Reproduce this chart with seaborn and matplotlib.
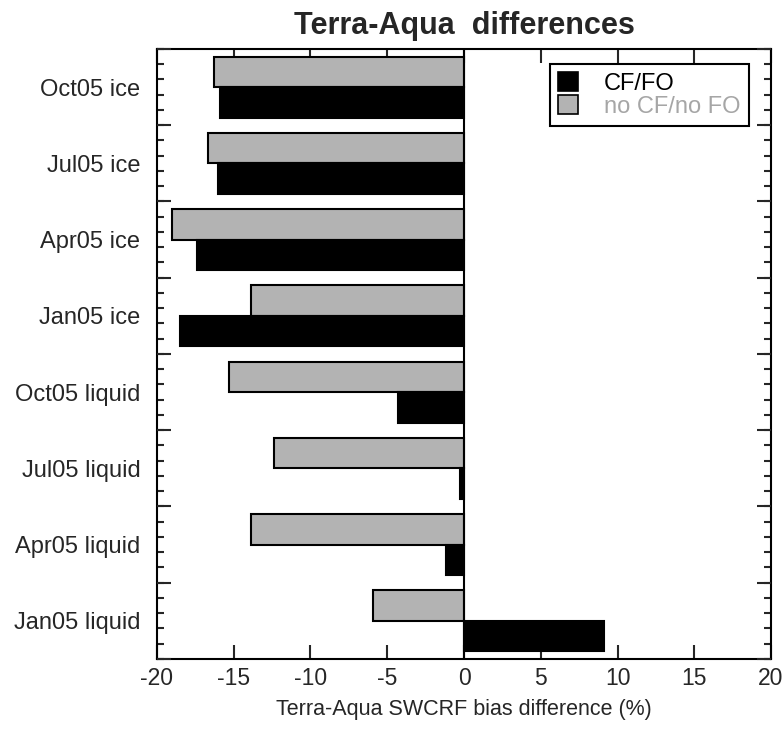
import matplotlib
matplotlib.use("Agg")
import matplotlib.pyplot as plt
import matplotlib.patches as mpatches
import numpy as np
import pandas as pd
import seaborn as sns

categories = ["Oct05 ice", "Jul05 ice", "Apr05 ice", "Jan05 ice",
              "Oct05 liquid", "Jul05 liquid", "Apr05 liquid", "Jan05 liquid"]
cf_fo = [-15.9, -16.0, -17.4, -18.5, -4.3, -0.25, -1.15, 9.15]
no_cf_fo = [-16.3, -16.65, -19.0, -13.9, -15.3, -12.35, -13.9, -5.9]
series_names = ["no CF/no FO", "CF/FO"]
xticks = [-20, -15, -10, -5, 0, 5, 10, 15, 20]

df = pd.DataFrame({
    "category": categories * 2,
    "value": no_cf_fo + cf_fo,
    "series": [series_names[0]] * len(categories) + [series_names[1]] * len(categories),
})

sns.set_style("ticks")
plt.rcParams["font.family"] = ["Liberation Sans", "DejaVu Sans"]

GRAY = "#b3b3b3"
fig = plt.figure(figsize=(7.83, 7.33), dpi=100)
ax = fig.add_axes([0.2005, 0.101, 0.7842, 0.8322])

sns.barplot(data=df, y="category", x="value", hue="series", order=categories,
            hue_order=series_names, palette={series_names[0]: GRAY, series_names[1]: "black"},
            orient="h", width=0.8, edgecolor="black", linewidth=1.5, ax=ax, legend=False)

ax.axvline(0, color="black", lw=1.5, zorder=5)
ax.set_xlim(-20, 20)
ax.set_ylim(len(categories) - 0.5, -0.5)

ax2 = ax.twinx()
ax2.set_ylim(ax.get_ylim())
ax2.set_yticks(np.arange(-0.5, len(categories), 1.0))
ax2.tick_params(axis="y", direction="in", length=10, width=1.5, left=True, right=True,
                labelleft=False, labelright=False)
for s in ax2.spines.values():
    s.set_visible(False)

ax.set_xticks(xticks)
ax.set_xticklabels([str(t) for t in xticks], fontsize=16.5)
ax.tick_params(axis="x", which="major", direction="in", length=10, width=1.5,
               top=True, bottom=True, pad=6)
ax.set_yticks(range(len(categories)))
ax.set_yticklabels(categories, fontsize=17)
ax.tick_params(axis="y", which="major", length=0, pad=12, left=True, right=False)
ax.set_yticks(np.arange(-0.5, len(categories) - 0.4, 0.2), minor=True)
ax.tick_params(axis="y", which="minor", direction="in", length=5, width=1.5,
               left=True, right=True)
for s in ax.spines.values():
    s.set_linewidth(1.5)
    s.set_color("black")

ax.set_xlabel("Terra-Aqua SWCRF bias difference (%)", fontsize=15.5, labelpad=6)
ax.set_ylabel("")
ax.set_title("Terra-Aqua  differences", fontsize=22, fontweight="bold", pad=11)

handles = [mpatches.Patch(facecolor="black", edgecolor="black", lw=1.2),
           mpatches.Patch(facecolor=GRAY, edgecolor="black", lw=1.2)]
leg = ax.legend(handles, ["CF/FO", "no CF/no FO"], loc="upper right",
                bbox_to_anchor=(0.964, 0.975), fontsize=17, frameon=True,
                fancybox=False, edgecolor="black", framealpha=1,
                handlelength=0.85, handleheight=0.85, handletextpad=1.1,
                labelspacing=0.0, borderpad=0.35, borderaxespad=0,
                labelcolor=["black", "#a6a6a6"])
leg.get_frame().set_linewidth(1.5)
leg.set_zorder(10)

fig.savefig("out.png", dpi=100)
